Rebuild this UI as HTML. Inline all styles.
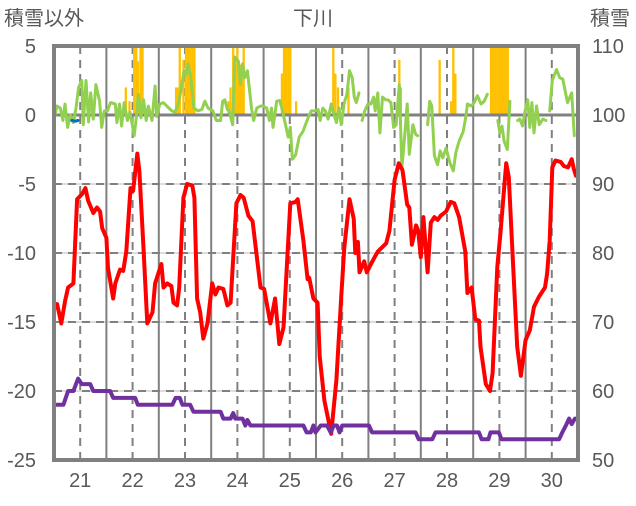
<!DOCTYPE html>
<html><head><meta charset="utf-8">
<style>
body{margin:0;background:#fff;width:636px;height:501px;overflow:hidden;font-family:"Liberation Sans","Noto Sans CJK JP",sans-serif;}
svg text{font-family:"Liberation Sans","Noto Sans CJK JP",sans-serif;fill:#595959;}
</style></head>
<body>
<svg id="chart" width="636" height="501" xmlns="http://www.w3.org/2000/svg">
<text x="313" y="25" font-size="20" text-anchor="middle">下川</text>
<text x="4" y="25" font-size="20">積雪以外</text>
<text x="590" y="25" font-size="20">積雪</text>
<defs><clipPath id="clip"><rect x="54" y="46" width="524" height="414"/></clipPath></defs>
<g id="grid"></g>
<g id="bars" clip-path="url(#clip)"></g>
<g id="zero"></g>
<g id="lines" clip-path="url(#clip)"></g>
<rect x="54" y="46" width="524" height="414" fill="none" stroke="#808080" stroke-width="4"/>
<g id="ticks"></g>
</svg>
<script>
const dayTicks=[21,22,23,24,25,26,27,28,29,30];
const leftTicks=[5,0,-5,-10,-15,-20,-25];
const rightTicks=[110,100,90,80,70,60,50];
const redDays=[20.48,20.56,20.64,20.71,20.77,20.87,20.94,21.04,21.1,21.15,21.25,21.32,21.38,21.42,21.5,21.53,21.63,21.67,21.76,21.82,21.88,21.96,22.01,22.09,22.13,22.2,22.28,22.38,22.43,22.55,22.59,22.66,22.74,22.78,22.85,22.89,22.97,23.04,23.14,23.18,23.23,23.29,23.35,23.43,23.52,23.58,23.64,23.73,23.81,23.87,23.98,24.06,24.12,24.21,24.29,24.44,24.51,24.63,24.72,24.8,24.88,25.01,25.11,25.15,25.26,25.34,25.37,25.45,25.53,25.57,25.66,25.79,25.89,25.98,26.04,26.14,26.22,26.25,26.3,26.33,26.42,26.47,26.55,26.62,26.68,26.84,26.9,27.0,27.08,27.15,27.24,27.28,27.33,27.41,27.45,27.5,27.55,27.63,27.69,27.76,27.82,27.88,27.98,28.07,28.14,28.23,28.35,28.39,28.47,28.54,28.61,28.64,28.74,28.82,28.87,28.96,29.02,29.13,29.18,29.25,29.34,29.41,29.5,29.58,29.66,29.75,29.87,29.91,29.96,30.01,30.07,30.17,30.23,30.31,30.38,30.42,30.46];
const redVals=[-14.2,-13.7,-15.1,-13.5,-12.5,-12.2,-6.1,-5.7,-5.3,-6.2,-7.1,-6.7,-7,-8.2,-8.9,-11.1,-13.3,-12.2,-11.2,-11.3,-9.9,-5.3,-5.5,-2.8,-4.1,-9.1,-15.1,-14.3,-12.2,-10.8,-12.5,-12.2,-12.4,-13.6,-13.8,-12.5,-6,-5,-5.1,-6,-13.3,-14.3,-16.2,-15.1,-12.2,-13,-12.5,-12.6,-13.8,-13.6,-6.4,-5.8,-6,-7.3,-7.7,-12.5,-12.6,-15.1,-13.3,-16.6,-15.4,-6.4,-6.3,-6.1,-9.1,-11.9,-11.8,-13.3,-13.6,-17.5,-20.7,-23.1,-19.2,-13.2,-9.6,-6.1,-7.5,-10,-9.2,-11.4,-10.6,-11.4,-10.8,-10.3,-9.9,-9.3,-8.4,-4.7,-3.5,-4,-6.5,-6.7,-9.4,-8,-8.4,-10.3,-7.4,-11.4,-7.8,-7.4,-7.6,-7.3,-7,-6.3,-6.4,-7.4,-9.9,-12.9,-12.5,-14.8,-14.9,-16.8,-19.5,-20,-18.7,-11,-8.6,-3.5,-4.5,-10,-16.8,-18.9,-16.3,-15.6,-13.9,-13.2,-12.5,-11.5,-9.1,-3.8,-3.3,-3.4,-3.7,-3.8,-3.2,-3.9,-4.4];
const greenDays=[20.49,20.56,20.62,20.67,20.71,20.76,20.81,20.87,20.92,20.97,21.03,21.06,21.11,21.16,21.2,21.25,21.3,21.37,21.41,21.46,21.52,21.58,21.67,21.7,21.75,21.79,21.84,21.9,21.95,22.03,22.07,22.11,22.16,22.21,22.26,22.3,22.37,22.43,22.46,22.52,22.59,22.65,22.75,22.81,22.87,22.92,22.98,23.02,23.06,23.11,23.17,23.25,23.32,23.38,23.44,23.53,23.6,23.68,23.72,23.76,23.81,23.84,23.91,23.95,24.02,24.06,24.1,24.14,24.19,24.24,24.27,24.31,24.37,24.44,24.49,24.56,24.61,24.65,24.68,24.75,24.81,24.86,24.9,24.97,25.01,25.05,25.11,25.18,25.25,25.35,25.41,25.48,25.54,25.58,25.63,25.68,25.73,25.79,25.83,25.89,25.94,25.98,26.04,26.09,26.14,26.19,26.23,26.27,26.32,26.35,26.38,26.43,26.49,26.55,26.6,26.63,26.68,26.72,26.77,26.83,26.85,26.87,26.93,26.98,27.03,27.09,27.14,27.19,27.24,27.28,27.35,27.4,27.44,27.5,27.63,27.67,27.71,27.76,27.82,27.87,27.92,27.98,28.06,28.12,28.17,28.23,28.31,28.36,28.39,28.46,28.52,28.58,28.65,28.71,28.77,28.9,28.97,29.01,29.05,29.09,29.15,29.2,29.3,29.35,29.39,29.44,29.49,29.54,29.58,29.62,29.66,29.71,29.76,29.83,29.89,29.93,29.96,30.01,30.09,30.15,30.21,30.3,30.38,30.43];
const greenVals=[-0.43,0.65,0.5,-0.4,0.8,-0.9,0,-0.55,0.5,2,2.5,-0.7,2.5,-0.5,1.6,-0.3,2.2,1,-0.9,0.3,0.3,0.9,0.8,-0.55,0.8,-0.8,0.9,-0.4,0.2,-1.5,-0.2,1.5,-0.2,1.1,-0.4,0.65,-0.4,2.1,-0.1,0.8,0.9,0.65,0.3,0.2,0.8,1.7,3.2,2.9,3.7,2.7,0.5,0.3,0.4,1,0.5,0.3,-0.4,-0.4,1,1.1,0.4,0.3,-0.7,4.2,3.9,2.2,3.7,2.7,3.2,1.5,0.5,-0.4,0.5,0.65,0.65,0.5,-0.4,0.5,-0.9,1,1.05,0.3,-0.4,-1.6,-0.9,-3.2,-2.9,-1.6,-1.2,-0.2,0.3,0.3,0.4,-0.4,0.5,0.3,-0.3,0.8,0.2,-0.55,0.5,-0.7,0.9,1.5,3.2,2.7,1.3,0.9,1.6,null,-0.4,0.3,0.8,0.8,1.3,0.3,1.6,-1.3,1.3,1.1,null,1.1,0.9,-0.9,-0.7,2.2,-3.8,-1.6,0.8,-2.85,-0.7,-1.4,-1.5,null,-0.7,1,0.65,-2.95,-3.6,-2.6,-3.1,-2.4,-3.5,-4.05,-2.7,-1.9,-1.2,-0.1,0.8,0.65,0.9,1.4,0.8,1.0,1.5,null,-0.4,-1.3,-0.8,-1.9,-2.5,1.0,null,-0.4,-0.3,-0.8,0.3,1.1,-0.9,0.9,-1.3,0.65,-0.7,-0.3,-0.4,null,0.3,2.5,3.3,2.7,2.6,0.9,1.6,-1.5];
const purpleDays=[20.48,20.68,20.77,20.87,20.96,21.03,21.19,21.25,21.57,21.63,22.05,22.1,22.76,22.82,22.9,22.95,23.1,23.16,23.68,23.73,23.87,23.92,23.96,24.1,24.15,24.19,24.25,25.26,25.32,25.4,25.45,25.49,25.59,25.71,25.78,25.84,25.9,25.95,26.0,26.51,26.57,27.4,27.46,27.72,27.78,28.61,28.66,28.79,28.83,28.99,29.04,30.14,30.2,30.27,30.33,30.38,30.44,30.5];
const purpleVals=[-21,-21,-20,-20,-19.1,-19.5,-19.5,-20,-20,-20.5,-20.5,-21,-21,-20.5,-20.5,-21,-21,-21.5,-21.5,-22,-22,-21.6,-22,-22,-22.5,-22.1,-22.5,-22.5,-23,-23,-22.5,-23,-22.5,-22.5,-23,-22.5,-22.5,-23,-22.5,-22.5,-23,-23,-23.5,-23.5,-23,-23,-23.5,-23.5,-23,-23,-23.5,-23.5,-23,-22.5,-22,-22.4,-22,-22];
const snowDays=[21.87,21.94,22.03,22.07,22.1,22.15,22.19,22.83,22.87,22.9,22.97,23.02,23.06,23.1,23.14,23.18,23.83,23.87,23.92,23.96,24.0,24.04,24.08,24.12,24.85,24.89,24.93,24.97,25.01,25.12,25.83,25.87,25.92,26.12,27.09,27.12,27.86,28.08,28.12,28.16,28.84,28.88,28.92,28.96,29.0,29.04,29.08,29.12,29.16];
const snowVals=[104,102,110,110,107.8,110,110,104,104,110,108,110,110,110,110,110,102,104,110,107.3,110,107.3,107.3,110,106,110,110,110,110,102,110,106,104,104,108,104,108,102,110,106,110,110,110,110,110,110,110,110,110];
const blueDays=[20.84,20.9,20.96];
const blueVals=[-0.4,-0.45,-0.4];

const NS='http://www.w3.org/2000/svg';
const X0=54,X1=578,Y0=46,Y1=460;
function xs(d){return X0+(d-20.5)/10*(X1-X0);}
function yl(v){return Y1-(v+25)/30*(Y1-Y0);}
function yr(v){return Y1-(v-50)/60*(Y1-Y0);}
function mk(tag,attrs,parent){const e=document.createElementNS(NS,tag);for(const k in attrs)e.setAttribute(k,attrs[k]);parent.appendChild(e);return e;}
const grid=document.getElementById('grid');
leftTicks.forEach(v=>{if(v===5||v===-25||v===0)return;
 const l=mk('line',{x1:X0,x2:X1,y1:yl(v),y2:yl(v),stroke:'#d0d0d0','stroke-width':1.5},grid);
 
 
 const l2=mk('line',{x1:X0,x2:X1,y1:yl(v),y2:yl(v),stroke:'#808080','stroke-width':2,'stroke-dasharray':'8,6'},grid);
 
 
});
dayTicks.forEach(d=>{
 const l=mk('line',{x1:xs(d),x2:xs(d),y1:Y0,y2:Y1,stroke:'#808080','stroke-width':2,'stroke-dasharray':'8,6'},grid);
 
 
 const h=mk('line',{x1:xs(d+0.5),x2:xs(d+0.5),y1:Y0,y2:Y1,stroke:'#808080','stroke-width':2},grid);
 
 
});
const bars=document.getElementById('bars');
const bw=(X1-X0)/10/24*1.05;
snowDays.forEach((d,i)=>{
 const r=mk('rect',{x:xs(d)-bw/2,y:yr(snowVals[i]),width:bw,height:yr(100)-yr(snowVals[i]),fill:'#ffc000'},bars);
 
 
});
const z=mk('line',{x1:X0,x2:X1,y1:yl(0),y2:yl(0),stroke:'#808080','stroke-width':3},document.getElementById('zero'));


const lines=document.getElementById('lines');
function path(days,vals,col,w,name){
 let d='',pen=false;
 days.forEach((t,i)=>{const v=vals[i];if(v===null){pen=false;return;}d+=(pen?'L':'M')+xs(t).toFixed(1)+','+yl(v).toFixed(1);pen=true;});
 const p=mk('path',{d:d,fill:'none',stroke:col,'stroke-width':w,'stroke-linejoin':'round','stroke-linecap':'round'},lines);
 
 
}
path(greenDays,greenVals,'#92d050',3,'green-series-line');
path(blueDays,blueVals,'#0070c0',3,'blue-series-line');
path(redDays,redVals,'#ff0000',4,'red-temperature-line');
path(purpleDays,purpleVals,'#7030a0',4,'purple-series-line');
const ticks=document.getElementById('ticks');
leftTicks.forEach(v=>{
 const t=mk('text',{x:36,y:yl(v)+7,'font-size':20,'text-anchor':'end'},ticks);t.textContent=v;
 
 
});
rightTicks.forEach(v=>{
 const t=mk('text',{x:592,y:yr(v)+7,'font-size':20},ticks);t.textContent=v;
 
 
});
dayTicks.forEach(d=>{
 const t=mk('text',{x:xs(d),y:487,'font-size':20,'text-anchor':'middle'},ticks);t.textContent=d;
 
 
});
</script>
</body></html>
